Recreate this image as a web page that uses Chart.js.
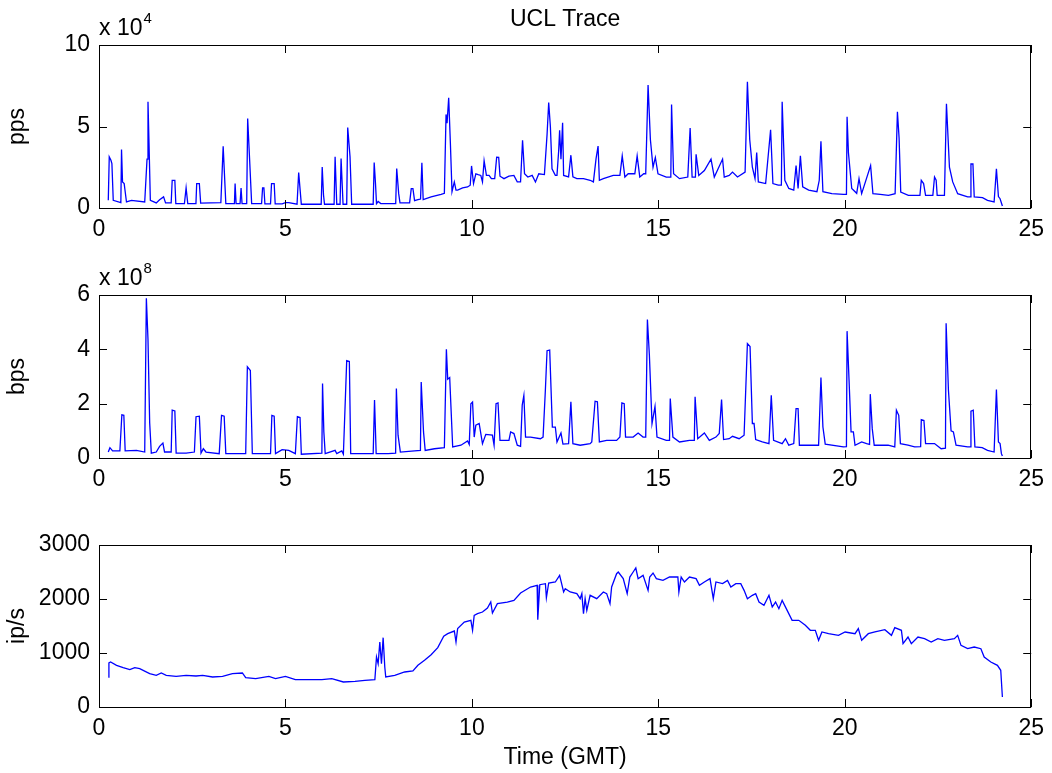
<!DOCTYPE html>
<html lang="en">
<head>
  <meta charset="UTF-8">
  <title>UCL Trace</title>
  <script src="https://cdn.jsdelivr.net/npm/chart.js"></script>
  <style>
    body { margin: 0; background: #fff; }
    .wrap { position: relative; width: 1052px; height: 773px; }
    canvas { position: absolute; left: 0; top: 0; }
  </style>
</head>
<body>
<div class="wrap">
  <canvas id="ppsChart" width="1052" height="773"></canvas>
  <canvas id="bpsChart" width="1052" height="773"></canvas>
  <canvas id="ipChart" width="1052" height="773"></canvas>
</div>
<script>
// packets per second, in units of 1e4
const ppsTime = [0.249,0.275,0.320,0.346,0.382,0.586,0.604,0.631,0.675,0.737,0.870,1.226,1.288,1.314,1.341,1.377,1.536,1.625,1.732,1.785,1.936,1.963,2.034,2.060,2.291,2.336,2.380,2.600,2.620,2.691,2.726,3.268,3.330,3.401,3.632,3.650,3.677,3.783,3.810,3.836,3.961,3.987,4.040,4.094,4.360,4.387,4.422,4.449,4.600,4.627,4.698,4.725,4.911,5.000,5.089,5.311,5.355,5.426,5.959,5.986,6.021,6.048,6.305,6.332,6.376,6.465,6.492,6.545,6.643,6.670,6.732,6.776,7.353,7.380,7.415,7.442,7.486,7.557,7.957,7.984,8.037,8.072,8.330,8.374,8.419,8.463,8.552,8.623,8.659,8.694,8.907,9.174,9.262,9.307,9.334,9.378,9.423,9.467,9.529,9.574,9.618,9.751,9.884,9.955,9.991,10.044,10.106,10.168,10.239,10.284,10.328,10.390,10.461,10.523,10.612,10.665,10.719,10.754,10.861,10.994,11.127,11.217,11.305,11.359,11.412,11.501,11.617,11.705,11.794,11.945,12.016,12.060,12.105,12.149,12.238,12.282,12.327,12.353,12.389,12.433,12.460,12.593,12.655,12.709,12.815,12.993,13.171,13.259,13.330,13.384,13.419,13.526,13.792,13.970,14.032,14.103,14.192,14.370,14.432,14.503,14.609,14.662,14.725,14.787,14.858,14.920,14.991,15.213,15.335,15.355,15.409,15.568,15.790,15.853,15.906,15.995,16.013,16.084,16.235,16.413,16.501,16.723,16.768,16.901,16.989,17.123,17.327,17.389,17.451,17.522,17.593,17.638,17.682,17.878,18.011,18.073,18.215,18.300,18.321,18.393,18.499,18.632,18.694,18.748,18.810,18.872,19.032,19.254,19.316,19.361,19.414,19.654,19.965,20.045,20.062,20.098,20.187,20.320,20.382,20.453,20.693,20.755,20.950,21.172,21.350,21.412,21.457,21.501,21.705,22.016,22.052,22.114,22.167,22.362,22.407,22.451,22.478,22.673,22.727,22.807,22.895,23.028,23.295,23.370,23.384,23.437,23.472,23.694,23.828,24.005,24.067,24.121,24.165,24.227];
const ppsE4 = [0.47,3.14,2.93,2.73,0.47,0.33,3.59,1.60,1.50,0.37,0.47,0.37,3.0,6.52,4.0,0.47,0.31,0.50,0.68,0.31,0.31,1.70,1.70,0.27,0.27,1.23,0.27,0.27,1.50,1.50,0.30,0.33,3.79,0.27,0.27,1.50,0.27,0.27,1.23,0.27,0.27,5.49,2.93,0.27,0.27,1.23,1.23,0.25,0.25,1.50,1.50,0.25,0.25,0.33,0.33,0.23,2.17,0.23,0.23,2.52,0.80,0.23,0.23,3.14,0.23,0.23,3.04,0.23,0.23,4.94,3.14,0.23,0.23,2.79,1.50,0.27,0.40,0.27,0.27,2.42,0.88,0.31,0.31,1.19,1.19,0.45,0.51,0.55,2.77,0.51,0.68,0.84,0.90,5.74,5.20,6.76,4.00,1.00,1.60,1.10,1.10,1.23,1.29,1.40,2.58,1.50,2.10,2.05,2.00,1.60,2.89,2.00,2.00,1.80,1.80,3.11,3.10,1.95,1.80,1.95,2.00,1.60,1.60,4.16,2.10,1.90,2.00,1.60,2.10,2.05,4.50,6.47,5.00,2.40,2.00,2.00,3.50,4.77,3.00,5.23,2.00,1.91,3.24,1.91,1.80,1.80,1.70,1.60,3.03,3.80,1.70,1.80,2.00,2.00,3.20,1.90,2.10,2.10,3.20,1.90,2.10,2.10,7.54,4.20,2.50,3.10,2.10,1.90,1.90,6.35,2.10,1.80,1.90,4.90,1.90,1.90,3.30,2.00,2.30,3.00,1.90,3.00,1.90,2.00,2.20,1.90,2.20,7.74,4.20,2.50,1.80,3.40,1.60,1.50,4.80,1.50,1.40,1.40,6.52,1.70,1.20,1.10,2.60,1.20,3.20,1.30,1.10,1.00,1.70,4.10,1.00,0.88,0.84,0.84,5.60,3.40,1.20,0.90,1.80,0.88,2.60,0.88,0.84,0.78,0.88,5.90,4.30,0.98,0.78,0.78,1.70,1.50,0.78,0.78,1.90,1.70,0.78,0.78,6.40,2.50,1.60,0.88,0.68,0.68,2.70,2.70,0.68,0.64,0.47,0.37,2.40,0.70,0.57,0.12];

// bits per second, in units of 1e8
const bpsTime = [0.249,0.293,0.364,0.560,0.613,0.666,0.702,1.004,1.226,1.270,1.314,1.359,1.403,1.536,1.625,1.714,1.758,1.936,1.963,2.034,2.069,2.336,2.558,2.602,2.691,2.736,2.798,2.869,3.224,3.286,3.357,3.401,3.934,3.979,4.059,4.112,4.600,4.636,4.698,4.734,4.911,5.089,5.266,5.320,5.391,5.426,5.977,5.995,6.030,6.066,6.332,6.376,6.510,6.554,6.643,6.714,6.750,7.353,7.389,7.433,7.753,7.955,7.975,8.020,8.082,8.463,8.620,8.641,8.703,8.748,8.996,9.262,9.316,9.352,9.405,9.485,9.707,9.884,9.929,9.973,10.018,10.062,10.106,10.195,10.284,10.373,10.550,10.595,10.648,10.701,10.754,10.994,11.039,11.128,11.217,11.306,11.350,11.394,11.439,11.572,11.838,11.909,11.971,12.016,12.087,12.158,12.238,12.282,12.389,12.442,12.593,12.655,12.709,12.904,13.171,13.215,13.304,13.366,13.419,13.615,13.881,13.970,14.023,14.085,14.121,14.325,14.458,14.591,14.662,14.707,14.760,14.831,14.911,14.964,15.213,15.300,15.320,15.391,15.568,15.835,15.965,15.986,16.057,16.235,16.368,16.545,16.634,16.696,16.750,16.901,16.989,17.167,17.300,17.389,17.460,17.522,17.567,17.611,17.789,17.967,18.029,18.091,18.321,18.410,18.499,18.632,18.694,18.748,18.783,19.032,19.298,19.361,19.414,19.476,19.964,20.045,20.062,20.115,20.169,20.231,20.275,20.453,20.586,20.665,20.684,20.737,20.790,21.163,21.341,21.385,21.448,21.492,21.696,21.874,22.035,22.052,22.123,22.167,22.407,22.585,22.700,22.718,22.780,22.851,22.913,22.984,23.295,23.365,23.384,23.446,23.490,23.686,23.828,24.005,24.067,24.121,24.165,24.201,24.227];
const bpsE8 = [0.22,0.38,0.26,0.26,1.59,1.57,0.26,0.28,0.22,5.88,4.35,1.30,0.18,0.22,0.43,0.55,0.22,0.22,1.76,1.73,0.18,0.18,0.22,1.52,1.54,0.18,0.34,0.22,0.16,1.57,1.54,0.16,0.16,3.36,3.22,0.16,0.16,1.57,1.54,0.16,0.31,0.28,0.16,1.52,1.49,0.14,0.18,2.74,0.96,0.16,0.28,0.16,0.26,0.14,3.58,3.55,0.16,0.16,2.13,0.16,0.16,0.18,2.56,0.84,0.22,0.26,0.28,2.80,0.96,0.28,0.34,0.38,4.00,2.90,2.96,0.41,0.47,0.63,0.50,2.00,2.06,0.77,1.21,1.27,0.53,0.87,0.84,0.47,2.00,2.03,0.65,0.65,0.96,0.90,0.47,0.43,1.95,2.30,0.77,0.77,0.71,0.77,2.50,3.95,3.97,1.14,1.14,0.59,0.92,0.51,0.53,2.07,0.53,0.47,0.53,0.59,2.09,2.07,0.59,0.65,0.65,0.77,2.03,2.00,0.77,0.77,0.92,0.77,0.77,5.10,3.79,1.27,1.90,0.77,0.65,0.65,2.19,0.77,0.59,0.65,0.65,2.25,0.71,0.92,0.65,0.77,0.90,2.15,0.68,0.71,0.80,0.71,0.84,4.21,4.10,1.27,1.27,0.68,0.59,0.53,2.31,0.65,0.53,0.71,0.47,0.53,1.82,1.82,0.47,0.47,0.47,2.96,1.14,0.51,0.41,0.42,4.67,2.86,0.96,0.96,0.47,0.59,0.53,0.50,2.35,1.08,0.47,0.47,0.41,1.76,1.57,0.53,0.47,0.41,0.42,1.41,1.38,0.53,0.53,0.34,0.36,4.96,2.50,1.00,0.96,0.47,0.41,0.41,1.72,1.76,0.41,0.38,0.28,0.22,2.52,0.59,0.53,0.16,0.07];

// IPs per second
const ipTime = [0.249,0.266,0.311,0.471,0.648,0.826,0.959,1.092,1.359,1.536,1.670,1.803,2.069,2.336,2.602,2.780,3.046,3.313,3.579,3.845,3.934,4.201,4.556,4.734,5.000,5.266,5.622,5.977,6.243,6.554,6.865,7.131,7.398,7.442,7.486,7.531,7.575,7.620,7.664,7.690,7.931,8.197,8.419,8.552,8.730,8.907,9.085,9.245,9.352,9.529,9.574,9.618,9.796,9.973,10.018,10.062,10.151,10.284,10.417,10.506,10.551,10.684,10.950,11.128,11.306,11.572,11.750,11.767,11.821,11.972,11.998,12.060,12.238,12.353,12.460,12.504,12.638,12.815,12.904,12.949,12.993,13.037,13.082,13.171,13.348,13.526,13.615,13.704,13.748,13.881,13.926,14.059,14.165,14.236,14.325,14.396,14.458,14.591,14.725,14.769,14.858,14.947,15.124,15.302,15.524,15.551,15.613,15.701,15.835,16.013,16.102,16.235,16.386,16.474,16.545,16.723,16.856,16.945,17.078,17.211,17.300,17.389,17.522,17.611,17.700,17.833,17.967,18.055,18.144,18.233,18.321,18.455,18.588,18.766,18.943,19.076,19.210,19.298,19.387,19.565,19.831,20.009,20.275,20.364,20.453,20.631,20.808,21.075,21.252,21.341,21.519,21.563,21.696,21.785,21.963,22.140,22.318,22.496,22.673,22.940,23.028,23.117,23.295,23.472,23.650,23.739,23.917,24.094,24.183,24.227];
const ipRate = [556,815,833,772,728,691,728,710,617,586,630,586,568,586,574,586,556,568,617,630,543,525,568,525,568,506,506,506,525,463,475,494,506,926,802,1204,802,1284,741,556,586,648,667,772,864,969,1099,1309,1358,1407,1204,1451,1574,1605,1420,1698,1728,1759,1833,1944,1741,1914,1944,1975,2111,2222,2253,1617,2265,2284,2025,2296,2315,2438,2130,2191,2130,2099,2006,2100,1728,2006,1790,2068,2006,2130,2099,1914,2222,2469,2500,2377,2099,2407,2500,2574,2376,2438,2160,2407,2481,2377,2345,2407,2407,2130,2407,2315,2407,2377,2253,2315,2377,2006,2315,2284,2345,2222,2284,2284,2160,2006,2068,2099,1944,1883,2068,1852,1944,1821,1975,1790,1605,1605,1512,1420,1420,1235,1389,1358,1327,1389,1358,1451,1235,1358,1389,1432,1327,1469,1420,1173,1296,1173,1296,1265,1204,1265,1235,1265,1327,1142,1080,1111,1080,926,833,772,679,185];

const xTicks = [0, 5, 10, 15, 20, 25];
const ppsTicks = [0, 5, 10];
const bpsTicks = [0, 2, 4, 6];
const ipTicks = [0, 1000, 2000, 3000];

const FONT = 'Liberation Sans, Arial, Helvetica, sans-serif';

// MATLAB-style axes box with inward ticks, exponent label and title
const matlabAxes = {
  id: 'matlabAxes',
  afterDatasetsDraw(chart, args, opts) {
    const { ctx, chartArea: a, scales: { x, y } } = chart;
    ctx.save();
    ctx.strokeStyle = '#000';
    ctx.lineWidth = 1;
    ctx.strokeRect(Math.round(a.left) + 0.5, Math.round(a.top) + 0.5,
      Math.round(a.width) - 1, Math.round(a.height));
    const len = 8;
    ctx.beginPath();
    x.ticks.forEach(t => {
      const px = Math.round(x.getPixelForValue(t.value)) + 0.5;
      ctx.moveTo(px, a.bottom); ctx.lineTo(px, a.bottom - len);
      ctx.moveTo(px, a.top); ctx.lineTo(px, a.top + len);
    });
    y.ticks.forEach(t => {
      const py = Math.round(y.getPixelForValue(t.value)) + 0.5;
      ctx.moveTo(a.left, py); ctx.lineTo(a.left + len, py);
      ctx.moveTo(a.right, py); ctx.lineTo(a.right - len, py);
    });
    ctx.stroke();
    ctx.fillStyle = '#000';
    ctx.textBaseline = 'alphabetic';
    if (opts.exponent) {
      ctx.font = '23px ' + FONT;
      ctx.textAlign = 'left';
      const base = a.top - 10;
      ctx.fillText('x 10', a.left, base);
      const w = ctx.measureText('x 10').width;
      ctx.font = '15px ' + FONT;
      ctx.fillText(opts.exponent, a.left + w + 1, base - 12);
    }
    if (opts.title) {
      ctx.font = '23px ' + FONT;
      ctx.textAlign = 'center';
      ctx.fillText(opts.title, (a.left + a.right) / 2, 26);
    }
    ctx.restore();
  }
};

function makeChart(id, times, values, cfg) {
  const points = times.map((t, i) => ({ x: t, y: values[i] }));
  return new Chart(document.getElementById(id), {
    type: 'line',
    data: {
      datasets: [{
        data: points,
        borderColor: '#0000ff',
        borderWidth: 1.3,
        pointRadius: 0,
        tension: 0,
        fill: false
      }]
    },
    options: {
      responsive: false,
      animation: false,
      devicePixelRatio: 1,
      layout: { padding: { top: cfg.top, bottom: cfg.bottom, left: 0, right: 14 } },
      plugins: {
        legend: { display: false },
        tooltip: { enabled: false },
        matlabAxes: { exponent: cfg.exponent, title: cfg.title }
      },
      scales: {
        x: {
          type: 'linear',
          min: 0, max: 25,
          afterBuildTicks: s => { s.ticks = xTicks.map(v => ({ value: v })); },
          afterFit: s => { s.height = cfg.xHeight; },
          grid: { display: false, drawTicks: false },
          border: { display: false },
          ticks: { color: '#000', font: { family: FONT, size: 23 }, padding: 8, maxRotation: 0,
                   callback: v => String(v) },
          title: cfg.xTitle ? {
            display: true, text: cfg.xTitle, color: '#000',
            font: { family: FONT, size: 23 }, padding: { top: 0, bottom: 2 }
          } : { display: false }
        },
        y: {
          min: cfg.yTicks[0], max: cfg.yTicks[cfg.yTicks.length - 1],
          afterBuildTicks: s => { s.ticks = cfg.yTicks.map(v => ({ value: v })); },
          afterFit: s => { s.width = 99; },
          grid: { display: false, drawTicks: false },
          border: { display: false },
          ticks: { color: '#000', font: { family: FONT, size: 23 }, padding: 9,
                   callback: v => String(v) },
          title: {
            display: true, text: cfg.yTitle, color: '#000',
            font: { family: FONT, size: 23 }, padding: { top: 4, bottom: 0 }
          }
        }
      }
    },
    plugins: [matlabAxes]
  });
}

makeChart('ppsChart', ppsTime, ppsE4, {
  top: 45, bottom: 773 - 208 - 34, xHeight: 34,
  yTicks: ppsTicks, yTitle: 'pps', exponent: '4', title: 'UCL Trace'
});
makeChart('bpsChart', bpsTime, bpsE8, {
  top: 295, bottom: 773 - 458 - 34, xHeight: 34,
  yTicks: bpsTicks, yTitle: 'bps', exponent: '8'
});
makeChart('ipChart', ipTime, ipRate, {
  top: 545, bottom: 0, xHeight: 66,
  yTicks: ipTicks, yTitle: 'ip/s', xTitle: 'Time (GMT)'
});
</script>
</body>
</html>
